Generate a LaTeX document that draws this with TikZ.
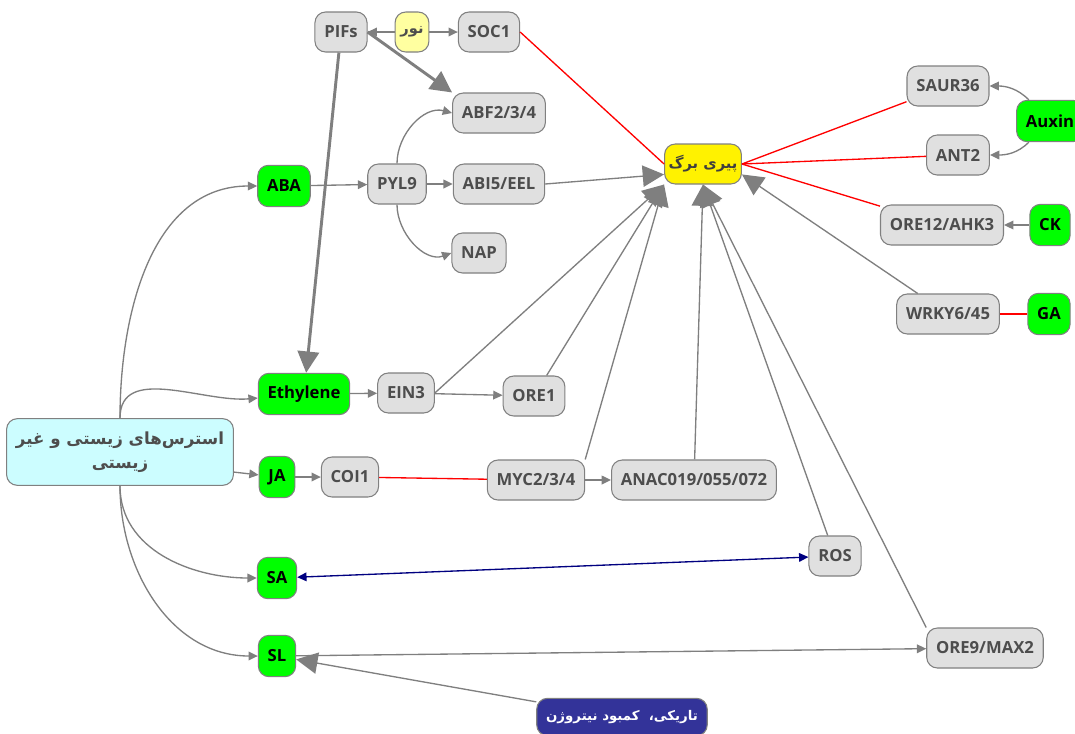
\documentclass[tikz,border=0pt]{standalone}
\usepackage{fontspec}
\setmainfont{Open Sans}
\newfontfamily\arabicfont[Script=Arabic]{DejaVu Sans}
\TeXXeTstate=1
\usetikzlibrary{arrows.meta}
\definecolor{boxgray}{HTML}{E0E0E0}
\definecolor{boxline}{HTML}{808080}
\definecolor{textgray}{HTML}{4D4D4D}
\definecolor{linegray}{HTML}{7F7F7F}
\definecolor{hgreen}{HTML}{00FF00}
\definecolor{lichtgelb}{HTML}{FFFFA0}
\definecolor{stresscyan}{HTML}{CCFDFF}
\definecolor{dunkelblau}{HTML}{333399}
\definecolor{pfeilblau}{HTML}{000080}
\tikzstyle{gen} = [rectangle, rounded corners=8pt, draw=boxline, fill=boxgray, text=textgray, font=\fontsize{12.5}{15}\selectfont\bfseries, minimum height=30pt, inner xsep=7pt, line width=0.8pt]
\tikzstyle{hormon} = [gen, fill=hgreen, text=black, minimum height=31pt]
\tikzstyle{licht} = [gen, fill=lichtgelb, text=textgray, inner xsep=4pt, font=\fontsize{11}{13}\selectfont\arabicfont\bfseries]
\tikzstyle{blatt} = [gen, fill=yellow, text=textgray!80!black, minimum width=56pt, inner xsep=3pt, font=\fontsize{11}{13}\selectfont\arabicfont\bfseries]
\tikzstyle{stress} = [gen, fill=stresscyan, text=textgray, minimum width=165pt, minimum height=50pt, align=center, font=\fontsize{12.5}{18}\selectfont\arabicfont\bfseries]
\tikzstyle{dunkel} = [gen, fill=dunkelblau, text=white, minimum width=121pt, minimum height=28pt, font=\fontsize{10}{12}\selectfont\arabicfont\bfseries]
\tikzstyle{gross} = [-{Triangle[length=16pt,width=16pt]}]
\tikzstyle{dick} = [gross, line width=2.2pt]
\tikzstyle{rot} = [-, red]
\tikzstyle{blau} = [<->, pfeilblau]

\begin{document}
\begin{tikzpicture}[->,>={Triangle[length=7pt,width=6.5pt]},x=0.75pt,y=-0.75pt,line width=1pt,color=linegray]
  \useasboundingbox (0,0) rectangle (1075,733);
  \node[gen] (PIFs) at (341,32) {PIFs};
  \node[licht] (Nur) at (412,32) {\beginR نور\endR};
  \node[gen] (SOC_1) at (489,32) {SOC1};
  \node[gen] (ABF) at (499,113) {ABF2/3/4};
  \node[hormon] (ABA) at (284,186) {ABA};
  \node[gen] (PYL_9) at (397,184) {PYL9};
  \node[gen] (ABI_5) at (499,184) {ABI5/EEL};
  \node[gen] (NAP) at (479,253) {NAP};
  \node[blatt] (Leaf) at (703,164) {\beginR پیری برگ\endR};
  \node[gen] (SAUR) at (948,86) {SAUR36};
  \node[gen] (ANT_2) at (958,155) {ANT2};
  \node[hormon] (Auxin) at (1050,121) {Auxin};
  \node[gen] (ORE_12) at (942,225) {ORE12/AHK3};
  \node[hormon] (CK) at (1050,225) {CK};
  \node[gen] (WRKY) at (948,314) {WRKY6/45};
  \node[hormon] (GA) at (1049,314) {GA};
  \node[hormon] (Ethylene) at (304,394) {Ethylene};
  \node[gen] (EIN_3) at (406,393) {EIN3};
  \node[gen] (ORE_1) at (534,396) {ORE1};
  \node[stress] (Stress) at (120,452) {\beginR استرس‌های زیستی و غیر\endR\\\beginR زیستی\endR};
  \node[hormon] (JA) at (277,477) {JA};
  \node[gen] (COI_1) at (350,477) {COI1};
  \node[gen] (MYC) at (536,480) {MYC2/3/4};
  \node[gen] (ANAC) at (694,480) {ANAC019/055/072};
  \node[hormon] (SA) at (277,578) {SA};
  \node[gen] (ROS) at (835,556) {ROS};
  \node[hormon] (SL) at (277,656) {SL};
  \node[gen] (ORE_9) at (985,648) {ORE9/MAX2};
  \node[dunkel] (Dark) at (622,717) {\beginR تاریکی،~ کمبود نیتروژن\endR};

  % licht und PIFs
  \path (Nur) edge (PIFs);
  \path (Nur) edge (SOC_1);
  \path (PIFs.east) edge[dick] (ABF.north west);
  \path (PIFs) edge[dick] (Ethylene);

  % stress
  \path (Stress.north) edge[out=90,in=180] (ABA);
  \path (Stress.north) edge[out=90,in=185] (Ethylene);
  \path (Stress.-10) edge (JA);
  \path (Stress.south) edge[out=-90,in=180] (SA);
  \path (Stress.south) edge[out=-90,in=180] (SL);

  % ABA
  \path (ABA) edge (PYL_9);
  \path (PYL_9) edge (ABI_5);
  \path (PYL_9.north) edge[out=90,in=165] (ABF.west);
  \path (PYL_9.south) edge[out=-90,in=200] (NAP.west);

  % ethylen, JA
  \path (Ethylene) edge (EIN_3);
  \path (EIN_3) edge (ORE_1);
  \path (JA) edge (COI_1);
  \path (COI_1) edge[rot] (MYC);
  \path (MYC) edge (ANAC);

  % zur blattseneszenz
  \path (SOC_1.east) edge[rot] (Leaf.west);
  \path (SAUR) edge[rot] (Leaf.east);
  \path (ANT_2) edge[rot] (Leaf.east);
  \path (ORE_12) edge[rot] (Leaf.east);
  \path (ABI_5.east) edge[gross] (Leaf.195);
  \path (EIN_3.east) edge[gross] (Leaf.south west);
  \path (ORE_1) edge[gross] (Leaf.south west);
  \path (MYC.north east) edge[gross] (Leaf.south west);
  \path (ANAC) edge[gross] (Leaf.south);
  \path (ROS) edge[gross] (Leaf.south);
  \path (ORE_9.north west) edge[gross] (Leaf.south);
  \path (WRKY) edge[gross] (Leaf.-15);

  % rechts
  \path (Auxin) edge[out=135,in=0] (SAUR);
  \path (Auxin) edge[out=-135,in=0] (ANT_2);
  \path (CK) edge (ORE_12);
  \path (GA) edge[rot] (WRKY);

  % unten
  \path (SA) edge[blau] (ROS);
  \path (SL) edge (ORE_9);
  \path (Dark) edge[gross] (SL);
\end{tikzpicture}
\end{document}
